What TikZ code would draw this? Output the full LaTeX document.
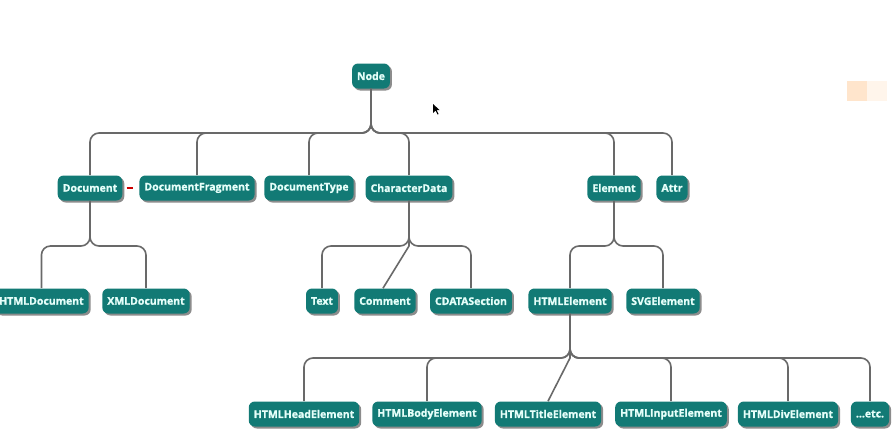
\documentclass[tikz,border=0pt]{standalone}
\usepackage{fontspec}
\newfontfamily\boxfont{Open Sans}[BoldFeatures={FakeBold=1.2}]
\usepackage{tikz}
\usetikzlibrary{calc, shadows}
\begin{document}
\begin{tikzpicture}[x=1pt, y=-1pt, semithick]
                \tikzset{cls/.style={rectangle, rounded corners=6pt, fill={rgb,255:red,18;green,122;blue,117}, text={rgb,255:red,230;green,255;blue,250}, font=\boxfont\bfseries\fontsize{10.5}{12}\selectfont, minimum height=25pt, inner xsep=5pt, inner ysep=0pt, drop shadow={shadow xshift=2pt, shadow yshift=-2pt, opacity=0.45, fill=black}}};
                \tikzset{link/.style={draw={rgb,255:red,105;green,105;blue,105}, line width=1.6pt, rounded corners=9pt}};
                \useasboundingbox[fill=white] (0, 0) rectangle (895, 442);
                \fill[orange!20] (847, 81) rectangle (867, 101);
                \fill[orange!8] (867, 81) rectangle (887, 101);
                \fill[black] (433, 104) -- (433, 113) -- (435.5, 110.5) -- (437.5, 114.5) -- (438.5, 114) -- (436.5, 110) -- (439.5, 110) -- cycle;
                \coordinate (bus0) at (0, 133);
                \coordinate (bus1) at (0, 246);
                \coordinate (bus2) at (0, 358);
                \node[cls] (nd) at (371, 76) {Node};
                \node[cls] (doc) at (90, 188) {Document};
                \node[cls] (frag) at (197, 188) {DocumentFragment};
                \node[cls] (dtype) at (309, 188) {DocumentType};
                \node[cls] (chdata) at (409, 188) {CharacterData};
                \node[cls] (elem) at (614, 188) {Element};
                \node[cls] (attr) at (672, 188) {Attr};
                \node[cls, anchor=east] (htmldoc) at (89, 301) {HTMLDocument};
                \node[cls] (xmldoc) at (146, 301) {XMLDocument};
                \node[cls] (text) at (322, 301) {Text};
                \node[cls] (comment) at (385, 301) {Comment};
                \node[cls] (cdata) at (471, 301) {CDATASection};
                \node[cls] (htmlel) at (570, 301) {HTMLElement};
                \node[cls] (svgel) at (663, 301) {SVGElement};
                \node[cls] (head) at (304, 414) {HTMLHeadElement};
                \node[cls] (body) at (427, 414) {HTMLBodyElement};
                \node[cls] (title) at (548, 414) {HTMLTitleElement};
                \node[cls] (input) at (671, 414) {HTMLInputElement};
                \node[cls] (div) at (788, 414) {HTMLDivElement};
                \node[cls] (etc) at (870, 414) {...etc.};
                \foreach \c in {doc, frag, dtype, chdata, elem, attr}
                    \draw[link] (nd.south) -- (nd.south |- bus0) -| (\c.north);
                \foreach \c in {htmldoc, xmldoc}
                    \draw[link] (doc.south) -- (doc.south |- bus1) -| (\c.north);
                \foreach \c in {text, cdata}
                    \draw[link] (chdata.south) -- (chdata.south |- bus1) -| (\c.north);
                \draw[link, rounded corners=0pt] (chdata.south) -- (chdata.south |- bus1) -- ($(comment.north) + (-2, 0)$);
                \foreach \c in {htmlel, svgel}
                    \draw[link] (elem.south) -- (elem.south |- bus1) -| (\c.north);
                \foreach \c in {head, body, input, div, etc}
                    \draw[link] (htmlel.south) -- (htmlel.south |- bus2) -| (\c.north);
                \draw[link, rounded corners=0pt] (htmlel.south) -- (htmlel.south |- bus2) -- (title.north);
                \draw[red!80!black, line width=1.4pt] ($(doc.east) + (4, 0)$) -- ($(doc.east) + (10, 0)$);
            \end{tikzpicture}
\end{document}
